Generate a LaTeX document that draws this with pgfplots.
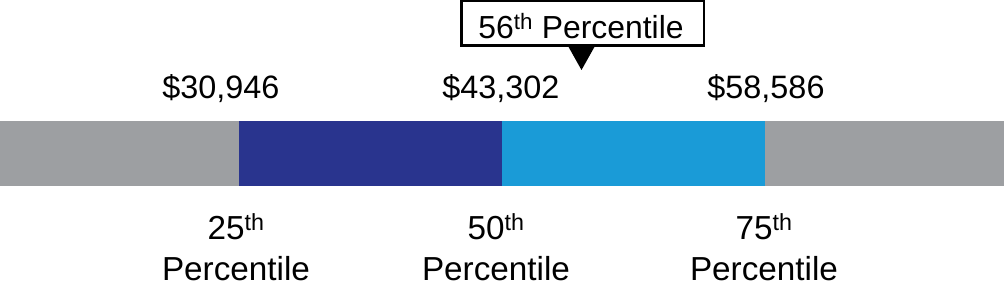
\documentclass[border=0pt]{standalone}
\usepackage{pgfplots}
\pgfplotsset{compat=1.18}
\usepackage{fontspec}
\setmainfont{Liberation Sans}
\definecolor{cgray}{HTML}{9D9FA2}
\definecolor{cdark}{HTML}{29348E}
\definecolor{clight}{HTML}{1A9BD7}
\begin{document}
\begin{tikzpicture}
\begin{axis}[
  scale only axis, width=1004bp, height=293bp,
  xmin=0, xmax=1004, ymin=0, ymax=293,
  hide axis, clip=false,
]
% bar segments (x in px, percentile positions 25->238.5, 50->502, 75->765)
\addplot[draw=none, fill=cgray] coordinates {(0,107) (238.5,107) (238.5,171.5) (0,171.5)} --cycle;
\addplot[draw=none, fill=cdark] coordinates {(238.5,107) (502,107) (502,171.5) (238.5,171.5)} --cycle;
\addplot[draw=none, fill=clight] coordinates {(502,107) (765,107) (765,171.5) (502,171.5)} --cycle;
\addplot[draw=none, fill=cgray] coordinates {(765,107) (1004,107) (1004,171.5) (765,171.5)} --cycle;
% callout
\addplot[draw=black, line width=2.6bp, fill=white] coordinates {(461.5,247.5) (704,247.5) (704,291.8) (461.5,291.8)} --cycle;
\addplot[draw=none, fill=black] coordinates {(567,248.8) (596,248.8) (581.5,223)} --cycle;
\node[anchor=base, font=\fontsize{32}{38}\selectfont] at (axis cs:581,254.5) {56\textsuperscript{th} Percentile};
% dollar labels
\node[anchor=base, font=\fontsize{32.5}{38}\selectfont] at (axis cs:221,194.7) {\$30,946};
\node[anchor=base, font=\fontsize{32.5}{38}\selectfont] at (axis cs:501,194.7) {\$43,302};
\node[anchor=base, font=\fontsize{32.5}{38}\selectfont] at (axis cs:766,194.7) {\$58,586};
% percentile labels
\node[anchor=base, font=\fontsize{33.4}{38}\selectfont] at (axis cs:236,54) {25\textsuperscript{th}};
\node[anchor=base, font=\fontsize{33.4}{38}\selectfont] at (axis cs:236,13) {Percentile};
\node[anchor=base, font=\fontsize{33.4}{38}\selectfont] at (axis cs:496,54) {50\textsuperscript{th}};
\node[anchor=base, font=\fontsize{33.4}{38}\selectfont] at (axis cs:496,13) {Percentile};
\node[anchor=base, font=\fontsize{33.4}{38}\selectfont] at (axis cs:764,54) {75\textsuperscript{th}};
\node[anchor=base, font=\fontsize{33.4}{38}\selectfont] at (axis cs:764,13) {Percentile};
\end{axis}
\pgfresetboundingbox
\path (current axis.south west) rectangle (current axis.north east);
\end{tikzpicture}
\end{document}
